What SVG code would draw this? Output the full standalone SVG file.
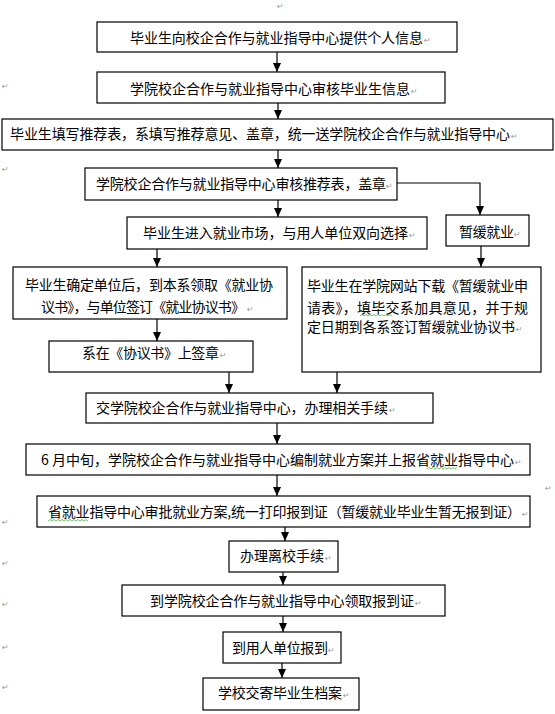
<svg xmlns="http://www.w3.org/2000/svg" width="555" height="714" viewBox="0 0 555 714">
<style>
.box{fill:#fff;stroke:#000;stroke-width:1.2}
.t{font-family:"Noto Sans CJK SC","Noto Sans CJK JP",sans-serif;font-size:14px;fill:#000}
.pm{font-family:"DejaVu Sans",sans-serif;font-size:8px;fill:#999}
.c{fill:none;stroke:#000;stroke-width:1.2}
.w{fill:none;stroke:#3a3;stroke-width:0.7}
</style>
<defs>
<marker id="ahd" markerUnits="userSpaceOnUse" markerWidth="9" markerHeight="8" refX="9" refY="4" orient="auto" viewBox="0 0 9 8">
<path d="M0,0 L9,4 L0,8 Z" fill="#000"/>
</marker>
</defs>
<rect width="555" height="714" fill="#fff"/>

<g id="connectors">
<path class="c" marker-end="url(#ahd)" d="M277,52 V72"/>
<path class="c" marker-end="url(#ahd)" d="M278,103 V119"/>
<path class="c" marker-end="url(#ahd)" d="M278,150 V168"/>
<path class="c" marker-end="url(#ahd)" d="M278,200 V217"/>
<path class="c" marker-end="url(#ahd)" d="M397,183 H480 V215"/>
<path class="c" marker-end="url(#ahd)" d="M157,249 V267"/>
<path class="c" marker-end="url(#ahd)" d="M481,246 V267"/>
<path class="c" marker-end="url(#ahd)" d="M157,319 V341"/>
<path class="c" marker-end="url(#ahd)" d="M229,372 V393"/>
<path class="c" marker-end="url(#ahd)" d="M337,372 V393"/>
<path class="c" marker-end="url(#ahd)" d="M277,423 V444"/>
<path class="c" marker-end="url(#ahd)" d="M277,475 V496"/>
<path class="c" marker-end="url(#ahd)" d="M285,527 V541"/>
<path class="c" marker-end="url(#ahd)" d="M283,572 V585"/>
<path class="c" marker-end="url(#ahd)" d="M283,616 V632"/>
<path class="c" marker-end="url(#ahd)" d="M282,663 V678"/>
</g>

<g id="n1"><rect class="box" x="97" y="22" width="360" height="30"/>
<text class="t" x="130" y="43" textLength="293" lengthAdjust="spacing">毕业生向校企合作与就业指导中心提供个人信息</text><text class="pm" x="424" y="43">↵</text></g>

<g id="n2"><rect class="box" x="97" y="72" width="348" height="31"/>
<text class="t" x="130" y="94" textLength="280" lengthAdjust="spacing">学院校企合作与就业指导中心审核毕业生信息</text><text class="pm" x="411" y="94">↵</text></g>

<g id="n3"><rect class="box" x="2" y="119" width="551" height="31"/>
<text class="t" x="10" y="139" textLength="500" lengthAdjust="spacing">毕业生填写推荐表，系填写推荐意见、盖章，统一送学院校企合作与就业指导中心</text><text class="pm" x="511" y="139">↵</text></g>

<g id="n4"><rect class="box" x="85" y="168" width="312" height="32"/>
<text class="t" x="96" y="189" textLength="290" lengthAdjust="spacing">学院校企合作与就业指导中心审核推荐表，盖章</text><text class="pm" x="386" y="189">↵</text></g>

<g id="n5"><rect class="box" x="127" y="217" width="300" height="32"/>
<text class="t" x="143" y="238" textLength="265" lengthAdjust="spacing">毕业生进入就业市场，与用人单位双向选择</text><text class="pm" x="409" y="238">↵</text></g>

<g id="n6"><rect class="box" x="446" y="215" width="83" height="31"/>
<text class="t" x="459" y="237" textLength="55" lengthAdjust="spacing">暂缓就业</text><text class="pm" x="514" y="237">↵</text></g>

<g id="n7"><rect class="box" x="13" y="267" width="274" height="52"/>
<text class="t" x="25" y="290" textLength="248" lengthAdjust="spacing">毕业生确定单位后，到本系领取《就业协</text>
<text class="t" x="41" y="312" textLength="204" lengthAdjust="spacing">议书》，与单位签订《就业协议书》</text><text class="pm" x="247" y="312">↵</text></g>

<g id="n8"><rect class="box" x="49" y="341" width="204" height="31"/>
<text class="t" x="82" y="358" textLength="137" lengthAdjust="spacing">系在《协议书》上签章</text><text class="pm" x="220" y="358">↵</text></g>

<g id="n9"><rect class="box" x="302" y="267" width="239" height="105"/>
<text class="t" x="307" y="291" textLength="221" lengthAdjust="spacing">毕业生在学院网站下载《暂缓就业申</text>
<text class="t" x="307" y="313" textLength="221" lengthAdjust="spacing">请表》，填毕交系加具意见，并于规</text>
<text class="t" x="307" y="332" textLength="208" lengthAdjust="spacing">定日期到各系签订暂缓就业协议书</text><text class="pm" x="516" y="332">↵</text>
<path class="w" d="M360,316 l2,-1.5 l2,1.5 l2,-1.5 l2,1.5 l2,-1.5 l2,1.5 l2,-1.5 l2,1.5 l2,-1.5 l2,1.5 l2,-1.5 l2,1.5 l2,-1.5 l2,1.5 l2,-1.5 l2,1.5"/></g>

<g id="n10"><rect class="box" x="86" y="393" width="347" height="30"/>
<text class="t" x="96" y="413" textLength="292" lengthAdjust="spacing">交学院校企合作与就业指导中心，办理相关手续</text><text class="pm" x="389" y="413">↵</text></g>

<g id="n11"><rect class="box" x="26" y="444" width="504" height="31"/>
<text class="t" x="41" y="465" textLength="473" lengthAdjust="spacing">6 月中旬，学院校企合作与就业指导中心编制就业方案并上报省就业指导中心</text><text class="pm" x="515" y="465">↵</text>
<path class="w" d="M427,469 l2,-1.5 l2,1.5 l2,-1.5 l2,1.5 l2,-1.5 l2,1.5 l2,-1.5 l2,1.5 l2,-1.5 l2,1.5 l2,-1.5 l2,1.5 l2,-1.5 l2,1.5 l2,-1.5"/></g>

<g id="n12"><rect class="box" x="37" y="496" width="493" height="31"/>
<text class="t" x="48" y="517" textLength="473" lengthAdjust="spacing">省就业指导中心审批就业方案,统一打印报到证（暂缓就业毕业生暂无报到证）</text><text class="pm" x="522" y="517">↵</text>
<path class="w" d="M48,521 l2,-1.5 l2,1.5 l2,-1.5 l2,1.5 l2,-1.5 l2,1.5 l2,-1.5 l2,1.5 l2,-1.5 l2,1.5 l2,-1.5 l2,1.5 l2,-1.5 l2,1.5 l2,-1.5 l2,1.5 l2,-1.5 l2,1.5 l2,-1.5 l2,1.5"/></g>

<g id="n13"><rect class="box" x="229" y="541" width="109" height="31"/>
<text class="t" x="240" y="561" textLength="84" lengthAdjust="spacing">办理离校手续</text><text class="pm" x="325" y="561">↵</text></g>

<g id="n14"><rect class="box" x="122" y="585" width="323" height="31"/>
<text class="t" x="150" y="606" textLength="264" lengthAdjust="spacing">到学院校企合作与就业指导中心领取报到证</text><text class="pm" x="415" y="606">↵</text></g>

<g id="n15"><rect class="box" x="223" y="632" width="118" height="31"/>
<text class="t" x="232" y="653" textLength="96" lengthAdjust="spacing">到用人单位报到</text><text class="pm" x="328" y="653">↵</text></g>

<g id="n16"><rect class="box" x="203" y="678" width="156" height="32"/>
<text class="t" x="218" y="698" textLength="124" lengthAdjust="spacing">学校交寄毕业生档案</text><text class="pm" x="343" y="698">↵</text></g>

<g id="marks">
<text class="pm" x="277" y="9">↵</text>
<text class="pm" x="2" y="89">↵</text>
<text class="pm" x="2" y="172">↵</text>
<text class="pm" x="545" y="491">↵</text>
<text class="pm" x="2" y="525">↵</text>
<text class="pm" x="2" y="566">↵</text>
<text class="pm" x="2" y="607">↵</text>
<text class="pm" x="2" y="650">↵</text>
<text class="pm" x="2" y="690">↵</text>
</g>
</svg>
